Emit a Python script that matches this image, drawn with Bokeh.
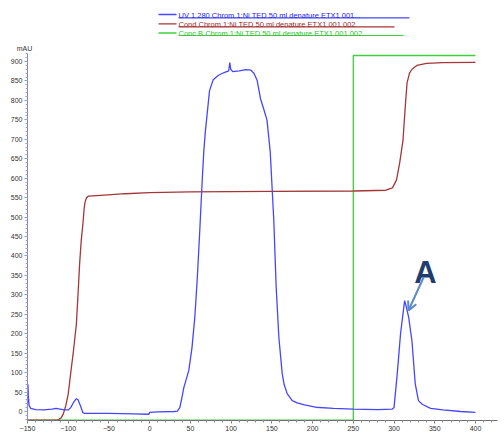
from bokeh.plotting import figure
from bokeh.models import Range1d, SingleIntervalTicker, Label, Arrow, OpenHead
from bokeh.embed import file_html
from bokeh.resources import INLINE

# ---------------- data ----------------
uv_ml = [-150, -149.5, -149, -148, -146, -140, -130, -120, -115, -110, -105, -100,
         -97, -93, -90, -88, -85, -82, -80, -50, -20, -1, 0, 10, 30, 34, 37, 40, 42,
         48, 52, 55.4, 58.3, 61.5, 64.5, 66.5, 68.5, 73.5, 78, 84, 90.6, 97, 98.4,
         99.5, 102, 110, 118, 124, 128, 132, 136, 140, 144, 148, 152.4, 155.3, 158.6,
         162.7, 165, 168.8, 175, 181, 190, 203.6, 225.7, 250, 280, 297.7, 300, 304,
         308, 313, 315, 318, 322, 326, 330, 335, 345, 360, 381.6, 400]
uv_mau = [20, 70, 40, 15, 8, 5, 4, 6, 8, 6, 4, 4,
          10, 25, 33, 30, 15, -3, -5, -5, -6, -7, -2, -1, 0, 1, 10, 40, 62,
          105, 165, 242, 337, 465, 594, 671, 723, 825, 853, 864, 871, 876, 897,
          880, 874, 876, 879, 878, 870, 851, 805, 778, 750, 668, 491, 320, 191,
          98, 70, 46, 28, 22, 17, 11, 8, 6, 5, 6, 10, 98,
          200, 285, 270, 242, 182, 72, 28, 18, 8, 4, 0, -2]

cond_ml = [-150, -113, -109, -106, -103, -100, -98, -96, -94, -90, -88, -86, -84,
           -82, -80.5, -79.5, -77.5, -75, -60, -30, 0, 50, 150, 250, 290, 298, 303,
           307, 311, 314, 316, 319, 322, 328, 340, 360, 400]
cond_scaled = [-22, -22, -17, -6, 15, 45, 80, 115, 148, 225, 300, 380, 440,
               482, 520, 537, 550, 554, 556, 560, 563, 565, 566, 567, 569, 575, 595,
               640, 697, 790, 845, 870, 880, 890, 895, 897, 898]

concb_ml = [-150, 250, 250, 400]
concb_pct = [0, 0, 100, 100]

legend_labels = ["UV 1 280  Chrom.1:Ni   TED 50  ml  denature  ETX1  001...",
                 "Cond  Chrom.1:Ni   TED 50  ml  denature   ETX1  001  002",
                 "Conc  B  Chrom.1:Ni   TED 50  ml  denature  ETX1  001  002"]
peak_label = "A"

UV_C, COND_C, CONC_C = "#4646ff", "#a33636", "#3fcf3f"
TXT_C = ["#2525dd", "#a02a2a", "#30c030"]

# ---------------- geometry (window px -> data) ----------------
FL, FT = 0, 0                     # frame left / top in window px
FRAME_W, FRAME_H = 502, 420
SX, SY = 0.8145, 0.3889           # px per unit
X0 = -150 - (27 - FL) / SX        # -150 sits at window x = 27
X1 = X0 + FRAME_W / SX
Y1 = 900 + (61 - FT) / SY         # 900 sits at window y = 61
Y0 = Y1 - FRAME_H / SY


def wx(px):
    return X0 + (px - FL) / SX


def wy(py):
    return Y1 - (py - FT) / SY


p = figure(frame_width=FRAME_W, frame_height=FRAME_H,
           x_range=Range1d(X0, X1), y_range=Range1d(Y0, Y1),
           output_backend="svg", toolbar_location=None,
           min_border_left=0, min_border_right=0, min_border_top=0,
           min_border_bottom=0, outline_line_color=None)
p.xgrid.visible = False
p.ygrid.visible = False

# Conc B on its own percent scale: 0 % sits on the x axis, 100 % near the top
v0, v100 = -22.5, wy(55)
k = (v100 - v0) / 100.0
p.extra_y_ranges = {"conc": Range1d((Y0 - v0) / k, (Y1 - v0) / k)}

# axes styling
xa = p.xaxis[0]
xa.ticker = SingleIntervalTicker(interval=50, num_minor_ticks=5)
xa.bounds = (-150, wx(497))
ya = p.yaxis[0]
ya.fixed_location = -150
ya.ticker = SingleIntervalTicker(interval=50, num_minor_ticks=5)
ya.bounds = (Y0, wy(53))
for ax in (xa, ya):
    ax.major_label_text_font = "Liberation Sans"
    ax.major_label_text_font_size = "7px"
    ax.major_label_text_color = "#333333"
    ax.major_tick_in = 0
    ax.major_tick_out = 3
    ax.minor_tick_in = 0
    ax.minor_tick_out = 2
    ax.major_label_standoff = 2
xa.axis_line_color = "#707070"
xa.major_tick_line_color = "#707070"
xa.minor_tick_line_color = "#909090"
ya.axis_line_color = "#8080ff"
ya.major_tick_line_color = "#9090c8"
ya.minor_tick_line_color = "#a0a0d0"

# data lines
p.line(concb_ml, concb_pct, y_range_name="conc", line_color=CONC_C, line_width=1.3)
p.line(cond_ml, cond_scaled, line_color=COND_C, line_width=1.3)
p.line(uv_ml, uv_mau, line_color=UV_C, line_width=1.3)

# legend (drawn as annotations to reproduce the underlined style)
rows_y = [14, 23.3, 32.5]
under_y = [17.3, 26.3, 35]
under_end = [409, 394, 403]
cols = [UV_C, COND_C, CONC_C]
for i, lab in enumerate(legend_labels):
    p.add_layout(Arrow(end=None, x_start=wx(158), y_start=wy(rows_y[i]),
                       x_end=wx(176), y_end=wy(rows_y[i]),
                       line_color=cols[i], line_width=1.3))
    p.add_layout(Arrow(end=None, x_start=wx(178), y_start=wy(under_y[i]),
                       x_end=wx(under_end[i]), y_end=wy(under_y[i]),
                       line_color=cols[i], line_width=1.2))
    p.add_layout(Label(x=wx(178), y=wy(rows_y[i] + 0.5), text=lab,
                       text_font="Liberation Sans", text_font_size="7.5px",
                       text_color=TXT_C[i], text_baseline="middle",
                       text_align="left"))

# mAU axis title
p.add_layout(Label(x=wx(24), y=wy(48), text="mAU", text_font="Liberation Sans",
                   text_font_size="7px", text_color="#333333",
                   text_align="center", text_baseline="middle"))

# x-axis unit at the right end of the axis
p.add_layout(Label(x=wx(501), y=wy(423), text="ml", text_font="Liberation Sans",
                   text_font_size="7px", text_color="#333333",
                   text_align="right", text_baseline="middle"))

# peak annotation
p.add_layout(Label(x=wx(425), y=wy(272), text=peak_label,
                   text_font="Liberation Sans", text_font_style="bold",
                   text_font_size="31px", text_color="#1f3d6e",
                   text_align="center", text_baseline="alphabetic"))
p.add_layout(Arrow(end=OpenHead(size=9, line_color="#5a8bc6", line_width=2),
                   x_start=wx(423), y_start=wy(277), x_end=wx(408), y_end=wy(310),
                   line_color="#5a8bc6", line_width=2))

open("out.html", "w").write(file_html(p, INLINE))
